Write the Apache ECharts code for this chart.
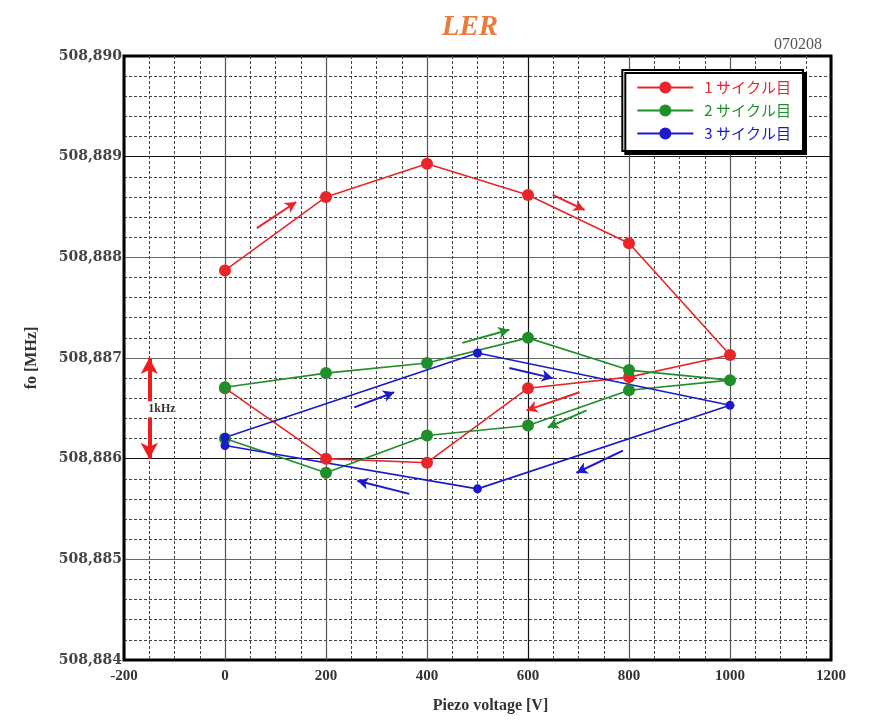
<!DOCTYPE html>
<html>
<head>
<meta charset="utf-8">
<script src="https://cdn.jsdelivr.net/npm/echarts@6/dist/echarts.min.js"></script>
<style>
  html, body { margin: 0; padding: 0; background: #fff; }
  #chart { width: 871px; height: 724px; }
</style>
</head>
<body>
<div id="chart"></div>
<script>
// Piezo voltage sweep, three cycles: resonance frequency fo [MHz]
const cycle1Name = '1 サイクル目';
const cycle2Name = '2 サイクル目';
const cycle3Name = '3 サイクル目';

const cycle1Volt = [0, 200, 400, 600, 800, 1000, 800, 600, 400, 200, 0];
const cycle1Freq = [508.88787, 508.88860, 508.88893, 508.88862, 508.88814, 508.88703,
                    508.88681, 508.88670, 508.88596, 508.88600, 508.88670];

const cycle2Volt = [0, 200, 400, 600, 800, 1000, 800, 600, 400, 200, 0];
const cycle2Freq = [508.88671, 508.88685, 508.88695, 508.88720, 508.88688, 508.88678,
                    508.88668, 508.88633, 508.88623, 508.88586, 508.88620];

const cycle3Volt = [0, 500, 1000, 500, 0];
const cycle3Freq = [508.88621, 508.88705, 508.88653, 508.88570, 508.88613];

// Direction arrows along each cycle: [x1, y1, x2, y2]
const cycle1Arrows = [
  [63, 508.88829, 141, 508.88855],
  [649, 508.88862, 712, 508.88847],
  [702, 508.88666, 597, 508.88648]
];
const cycle2Arrows = [
  [470, 508.88715, 563, 508.88728],
  [716, 508.88648, 639, 508.88631]
];
const cycle3Arrows = [
  [256, 508.88651, 335, 508.88666],
  [563, 508.88690, 649, 508.88680],
  [788, 508.88608, 696, 508.88586],
  [365, 508.88565, 262, 508.88578]
];

// 1 kHz scale bar
const scaleBar = [-150, 508.887, -150, 508.886];
const scaleLabel = '1kHz';
const scaleLabelPos = [-125, 508.88649];

const xTicks = { min: -200, max: 1200, step: 200 };
const yTicks = { min: 508.884, max: 508.890, step: 0.001 };

const RED = '#e8262a', GREEN = '#1f8f2a', BLUE = '#1a1acb';
const SERIF = '"Liberation Serif", "DejaVu Serif", serif';
const WIDE_SERIF = '"DejaVu Serif", "Liberation Serif", serif';
const JP = '"Noto Sans CJK JP", sans-serif';

function zip(xs, ys) { return xs.map((x, i) => [x, ys[i]]); }
function arrowLines(list) {
  return list.map(a => [{ coord: [a[0], a[1]] }, { coord: [a[2], a[3]] }]);
}

const chart = echarts.init(document.getElementById('chart'), null, { renderer: 'canvas' });

function lineSeries(name, volt, freq, color, size, arrows) {
  return {
    name: name,
    type: 'line',
    data: zip(volt, freq),
    symbol: 'circle',
    symbolSize: size,
    itemStyle: { color: color },
    lineStyle: { color: color, width: 1.6 },
    z: 3,
    markLine: {
      silent: true,
      symbol: ['none', 'arrow'],
      symbolSize: [9, 11],
      label: { show: false },
      lineStyle: { color: color, width: 2, type: 'solid' },
      emphasis: { disabled: true },
      data: arrowLines(arrows)
    }
  };
}

const option = {
  animation: false,
  backgroundColor: '#fff',
  title: [
    {
      text: 'LER',
      left: 465, top: 8, textAlign: 'center',
      textStyle: { fontFamily: SERIF, fontStyle: 'italic', fontWeight: 'bold', fontSize: 29, color: '#ec7a3c' }
    },
    {
      text: '070208',
      left: 769, top: 32,
      textStyle: { fontFamily: SERIF, fontWeight: 'normal', fontSize: 16, color: '#555' }
    }
  ],
  legend: {
    right: 68, top: 70,
    orient: 'vertical',
    backgroundColor: '#fff',
    borderColor: '#000', borderWidth: 2,
    shadowColor: '#000', shadowOffsetX: 3, shadowOffsetY: 3, shadowBlur: 0,
    padding: [10, 12, 10, 14],
    itemGap: 8,
    itemWidth: 56, itemHeight: 15,
    data: [
      { name: cycle1Name, textStyle: { color: RED } },
      { name: cycle2Name, textStyle: { color: GREEN } },
      { name: cycle3Name, textStyle: { color: BLUE } }
    ],
    textStyle: { fontFamily: JP, fontSize: 15, padding: [0, 0, 0, 6] }
  },
  grid: {
    left: 124, right: 40, top: 56, bottom: 64,
    show: true, borderColor: '#000', borderWidth: 3, backgroundColor: '#fff'
  },
  xAxis: {
    type: 'value',
    min: xTicks.min, max: xTicks.max, interval: xTicks.step,
    name: 'Piezo voltage [V]', nameLocation: 'middle', nameGap: 38,
    nameTextStyle: { fontFamily: SERIF, fontWeight: 'bold', fontSize: 16, color: '#333', padding: [0, 0, 0, 26] },
    axisLine: { show: false },
    axisTick: { show: false },
    axisLabel: {
      fontFamily: SERIF, fontWeight: 'bold', fontSize: 15, color: '#333', margin: 9,
      formatter: v => String(v)
    },
    splitLine: { show: true, lineStyle: { color: ['#000', '#555', '#555', '#555', '#111', '#555', '#555', '#000'], width: 1.2 } },
    minorTick: { show: false, splitNumber: 4 },
    minorSplitLine: { show: true, lineStyle: { color: '#444', width: 1, type: [3, 2] } }
  },
  yAxis: {
    type: 'value',
    min: yTicks.min, max: yTicks.max, interval: yTicks.step,
    name: 'fo [MHz]', nameLocation: 'middle', nameGap: 84, nameRotate: 90,
    nameTextStyle: { fontFamily: SERIF, fontWeight: 'bold', fontSize: 16, color: '#333' },
    axisLine: { show: false },
    axisTick: { show: false },
    axisLabel: {
      fontFamily: WIDE_SERIF, fontWeight: 'bold', fontSize: 14, color: '#444', margin: 2,
      formatter: v => v.toFixed(3).replace('.', ',')
    },
    splitLine: { show: true, lineStyle: { color: ['#000', '#666', '#111', '#666', '#666', '#111', '#000'], width: 1.2 } },
    minorTick: { show: false, splitNumber: 5 },
    minorSplitLine: { show: true, lineStyle: { color: '#444', width: 1, type: [3, 2] } }
  },
  series: [
    lineSeries(cycle1Name, cycle1Volt, cycle1Freq, RED, 12, cycle1Arrows),
    lineSeries(cycle2Name, cycle2Volt, cycle2Freq, GREEN, 12, cycle2Arrows),
    lineSeries(cycle3Name, cycle3Volt, cycle3Freq, BLUE, 9, cycle3Arrows),
    {
      name: 'scale',
      type: 'scatter',
      data: [],
      silent: true,
      z: 4,
      markLine: {
        silent: true,
        symbol: ['arrow', 'arrow'],
        symbolSize: [13, 16],
        label: { show: false },
        lineStyle: { color: '#ee1c1c', width: 4, type: 'solid' },
        data: [[{ coord: [scaleBar[0], scaleBar[1]] }, { coord: [scaleBar[2], scaleBar[3]] }]]
      },
      markPoint: {
        silent: true,
        symbol: 'rect',
        symbolSize: 1,
        itemStyle: { color: 'rgba(0,0,0,0)' },
        label: {
          show: true,
          formatter: scaleLabel,
          fontFamily: SERIF, fontWeight: 'bold', fontSize: 12, color: '#333',
          backgroundColor: '#fff', padding: [2, 2]
        },
        data: [{ coord: scaleLabelPos }]
      }
    }
  ]
};

chart.setOption(option);
</script>
</body>
</html>
